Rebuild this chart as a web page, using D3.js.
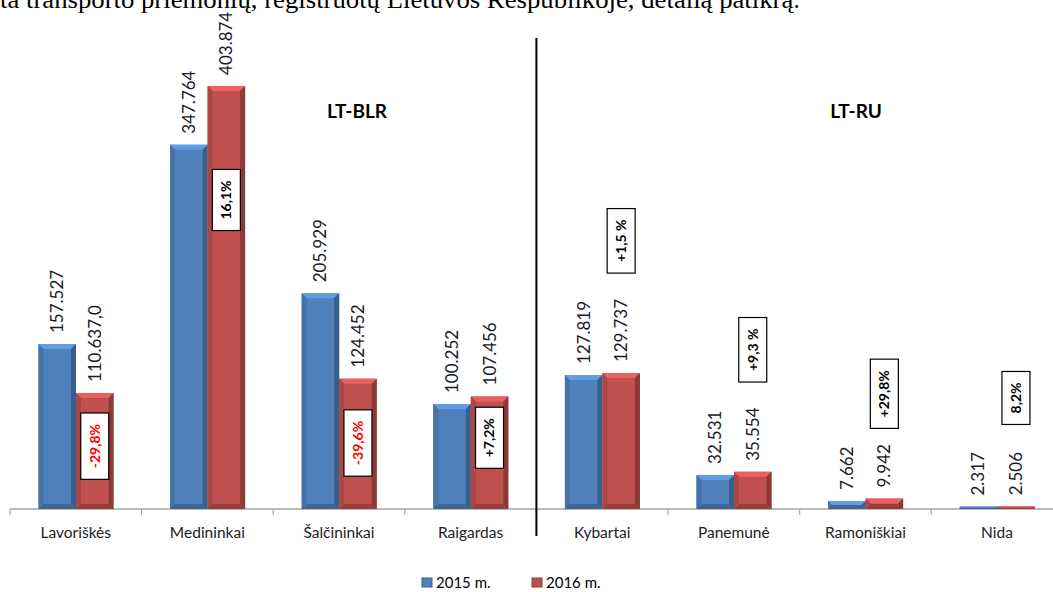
<!DOCTYPE html>
<html>
<head>
<meta charset="utf-8">
<script src="https://cdn.jsdelivr.net/npm/d3@7/dist/d3.min.js"></script>
<style>
  html, body { margin: 0; padding: 0; background: #fff; }
  svg { display: block; }
</style>
</head>
<body>
<div id="chart"></div>
<script>
// chart values
const crossings = ['Lavoriškės', 'Medininkai', 'Šalčininkai', 'Raigardas', 'Kybartai', 'Panemunė', 'Ramoniškiai', 'Nida'];
const years = ['2015 m.', '2016 m.'];
const values2015 = [157.527, 347.764, 205.929, 100.252, 127.819, 32.531, 7.662, 2.317];
const values2016 = [110.637, 403.874, 124.452, 107.456, 129.737, 35.554, 9.942, 2.506];
const labels2015 = ['157.527', '347.764', '205.929', '100.252', '127.819', '32.531', '7.662', '2.317'];
const labels2016 = ['110.637,0', '403.874', '124.452', '107.456', '129.737', '35.554', '9.942', '2.506'];
const changeLabels = ['-29,8%', '16,1%', '-39,6%', '+7,2%', '+1,5 %', '+9,3 %', '+29,8%', '8,2%'];
// where each change box sits, in chart units
const changeAnchors = [60, 295, 63, 68, 256, 152, 110, 106];
const groupNames = ['LT-BLR', 'LT-RU'];

const width = 1053;
const height = 592;
const baseY = 509;
const plotLeft = 10;
const step = 131.6;

const colors = ['#4F81BD', '#C0504D'];
const font = 'Lato, "Open Sans", sans-serif';

let svg = d3.select('#chart')
  .append('svg')
  .attr('width', width)
  .attr('height', height);

// heading line cut off at the top of the page
svg.append('text')
  .attr('x', 0)
  .attr('y', 8)
  .attr('textLength', 800)
  .attr('lengthAdjust', 'spacingAndGlyphs')
  .style('font-family', '"Liberation Serif", "Times New Roman", serif')
  .style('font-size', '25px')
  .style('fill', '#000')
  .text('ta transporto priemonių, registruotų Lietuvos Respublikoje, detalią patikrą.');

let x = d3.scaleBand()
  .domain(crossings)
  .range([plotLeft, plotLeft + step * crossings.length])
  .padding(0);

let xInner = d3.scaleBand()
  .domain(years)
  .range([28.5, 103.5])
  .padding(0);

let y = d3.scaleLinear()
  .domain([0, 420])
  .range([baseY, baseY - 420 * 1.0475]);

// x axis
let axis = svg.append('g')
  .attr('transform', 'translate(0,' + baseY + ')');

axis.append('line')
  .attr('x1', plotLeft)
  .attr('x2', width)
  .attr('stroke', '#a6a6a6')
  .attr('stroke-width', 1.5);

let tickPos = crossings.map(function (d) { return x(d); });
tickPos.push(x(crossings[crossings.length - 1]) + step);
axis.selectAll('.tick')
  .data(tickPos)
  .enter()
  .append('line')
  .attr('x1', function (d) { return d; })
  .attr('x2', function (d) { return d; })
  .attr('y1', 0)
  .attr('y2', 6)
  .attr('stroke', '#a6a6a6')
  .attr('stroke-width', 1.2);

axis.selectAll('.catLabel')
  .data(crossings)
  .enter()
  .append('text')
  .attr('x', function (d) { return x(d) + step / 2; })
  .attr('y', 29)
  .attr('text-anchor', 'middle')
  .style('font-family', font)
  .style('font-size', '15.5px')
  .style('fill', '#222')
  .text(function (d) { return d; });

// bars with bevelled edges
function drawBar(g, x0, w, top, color) {
  let h = baseY - top;
  let b = Math.min(5, h / 2, w / 2);
  let light = d3.color(color).brighter(0.55);
  let dark = d3.color(color).darker(0.9);
  let mid = d3.color(color).darker(0.35);

  g.append('rect')
    .attr('x', x0)
    .attr('y', top)
    .attr('width', w)
    .attr('height', h)
    .attr('fill', color);

  const x1 = x0 + w;
  const pts = function (arr) { return arr.map(function (p) { return p.join(','); }).join(' '); };

  // top
  g.append('polygon')
    .attr('points', pts([[x0, top], [x1, top], [x1 - b, top + b], [x0 + b, top + b]]))
    .attr('fill', light);
  // left
  g.append('polygon')
    .attr('points', pts([[x0, top], [x0 + b, top + b], [x0 + b, baseY - b], [x0, baseY]]))
    .attr('fill', mid);
  // right
  g.append('polygon')
    .attr('points', pts([[x1, top], [x1, baseY], [x1 - b, baseY - b], [x1 - b, top + b]]))
    .attr('fill', dark);
  // bottom
  g.append('polygon')
    .attr('points', pts([[x0, baseY], [x1, baseY], [x1 - b, baseY - b], [x0 + b, baseY - b]]))
    .attr('fill', dark)
    .attr('opacity', 0.8);
}

let series = [values2015, values2016];
let seriesLabels = [labels2015, labels2016];
let bars = svg.append('g');

crossings.forEach(function (c, i) {
  years.forEach(function (yr, k) {
    let x0 = x(c) + xInner(yr);
    let w = xInner.bandwidth();
    let top = y(series[k][i]);
    drawBar(bars, x0, w, top, colors[k]);

    let cx = x0 + w / 2;
    let ly = top - 11;
    svg.append('text')
      .attr('transform', 'translate(' + (cx + 6) + ',' + ly + ') rotate(-90)')
      .attr('text-anchor', 'start')
      .style('font-family', font)
      .style('font-size', '17px')
      .style('fill', '#1a1a2a')
      .text(seriesLabels[k][i]);
  });
});

// change boxes on the 2016 bar
crossings.forEach(function (c, i) {
  let cx = x(c) + xInner(years[1]) + xInner.bandwidth() / 2;
  let cy = y(changeAnchors[i]);
  let label = changeLabels[i];
  let g = svg.append('g')
    .attr('transform', 'translate(' + cx + ',' + cy + ')');

  let rect = g.append('rect')
    .attr('fill', '#fff')
    .attr('stroke', '#000')
    .attr('stroke-width', 1.2);

  let t = g.append('text')
    .attr('transform', 'rotate(-90)')
    .attr('text-anchor', 'middle')
    .attr('dy', '0.35em')
    .style('font-family', font)
    .style('font-size', '14px')
    .style('font-weight', 'bold')
    .style('fill', label.charAt(0) === '-' ? '#ff0000' : '#000')
    .text(label);

  let len = t.node().getComputedTextLength();
  let bw = 28;
  let bh = len + 22;
  rect.attr('x', -bw / 2)
    .attr('y', -bh / 2)
    .attr('width', bw)
    .attr('height', bh);
});

// divider between the two borders
let divX = x(crossings[4]);
svg.append('line')
  .attr('x1', divX)
  .attr('x2', divX)
  .attr('y1', 38)
  .attr('y2', 536)
  .attr('stroke', '#000')
  .attr('stroke-width', 2);

// group titles
svg.selectAll('.groupTitle')
  .data(groupNames)
  .enter()
  .append('text')
  .attr('x', function (d, i) { return i === 0 ? 357 : 856; })
  .attr('y', 118)
  .attr('text-anchor', 'middle')
  .style('font-family', font)
  .style('font-size', '19px')
  .style('font-weight', 'bold')
  .style('fill', '#000')
  .text(function (d) { return d; });

// legend
let legend = svg.selectAll('.legend')
  .data(years)
  .enter()
  .append('g')
  .attr('transform', function (d, i) {
    return 'translate(' + (422 + i * 110) + ', 578)';
  });

legend.append('rect')
  .attr('width', 10)
  .attr('height', 9)
  .attr('fill', function (d, i) { return colors[i]; })
  .attr('stroke', function (d, i) { return d3.color(colors[i]).darker(0.8); })
  .attr('stroke-width', 1);

legend.append('text')
  .attr('x', 14)
  .attr('y', 10)
  .style('font-family', font)
  .style('font-size', '15px')
  .style('fill', '#000')
  .text(function (d) { return d; });
</script>
</body>
</html>
